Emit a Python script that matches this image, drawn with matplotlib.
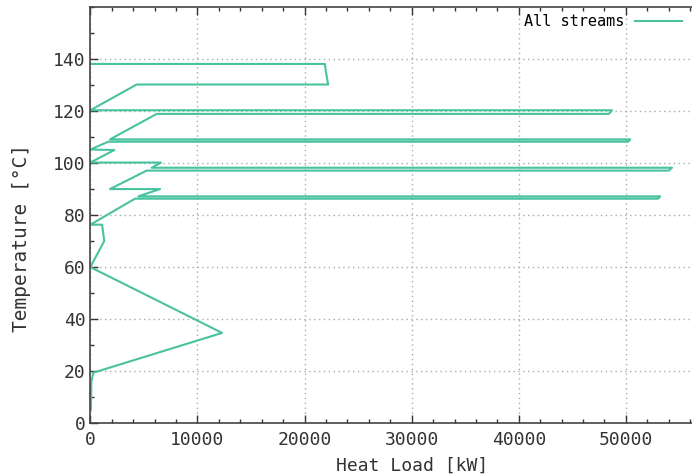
import numpy as np
import matplotlib
matplotlib.use('Agg')
import matplotlib.pyplot as plt
from matplotlib.ticker import MultipleLocator

# composite curve points (heat load kW, temperature C)
heat_load = [0, 21900, 22000, 22200, 4330, 0, 48700, 48400, 6200, 1840,
             50400, 50200, 1680, 0, 2240, 0, 6600, 5730, 54300, 54000,
             5260, 1840, 6510, 4480, 53200, 53000, 4170, 0, 1100, 1300,
             0, 12300, 280, 100, 50]
temperature = [138.1, 138.1, 135, 130.2, 130.2, 120.3, 120.3, 118.9, 118.9, 109.1,
               109.1, 108.2, 108.2, 105.2, 105.0, 100.2, 100.2, 98.2, 98.2, 97.1,
               97.1, 90.0, 90.0, 87.2, 87.2, 86.3, 86.3, 76.3, 76.3, 70.0,
               60.0, 34.7, 19.4, 16.0, 5.0]

plt.rcParams['font.family'] = ['DejaVu Sans Mono']

fig = plt.figure(figsize=(6.92, 4.76), dpi=100)
# the original is cropped on the right, so the axes run past the figure edge
ax = fig.add_axes([0.1305, 0.111, 0.9288, 0.8743])

ax.plot(heat_load, temperature, color='#48c29f', lw=1.5, label='All streams')

ax.set_xlim(0, 60000)
ax.set_ylim(0, 160)
ax.xaxis.set_major_locator(MultipleLocator(10000))
ax.xaxis.set_minor_locator(MultipleLocator(2000))
ax.yaxis.set_major_locator(MultipleLocator(20))
ax.yaxis.set_minor_locator(MultipleLocator(10))
ax.set_xticks([0, 10000, 20000, 30000, 40000, 50000])
ax.set_yticks([0, 20, 40, 60, 80, 100, 120, 140])

ax.tick_params(which='both', direction='in', top=True, right=True, colors='#333333',
               labelsize=13, labelcolor='#333333')
ax.tick_params(which='major', length=6, width=1)
ax.tick_params(which='minor', length=3, width=1)
ax.tick_params(axis='x', pad=6)

for s in ax.spines.values():
    s.set_color('#444444')
    s.set_linewidth(1.2)

ax.grid(True, which='major', color='#aaaaaa', ls=(0, (1, 2.5)), lw=1)

ax.set_xlabel('Heat Load [kW]', fontsize=13, color='#333333', labelpad=5)
ax.set_ylabel('Temperature [°C]', fontsize=14, color='#333333')
ax.yaxis.set_label_coords(31 / 692, 0.5, transform=fig.transFigure)

ax.legend(loc='upper right', frameon=False, markerfirst=False, fontsize=11,
          handlelength=3.1, handletextpad=0.65, borderaxespad=0,
          bbox_to_anchor=(688 / 692, 1 - 8 / 476), bbox_transform=fig.transFigure)

fig.savefig('out.png', dpi=100)
